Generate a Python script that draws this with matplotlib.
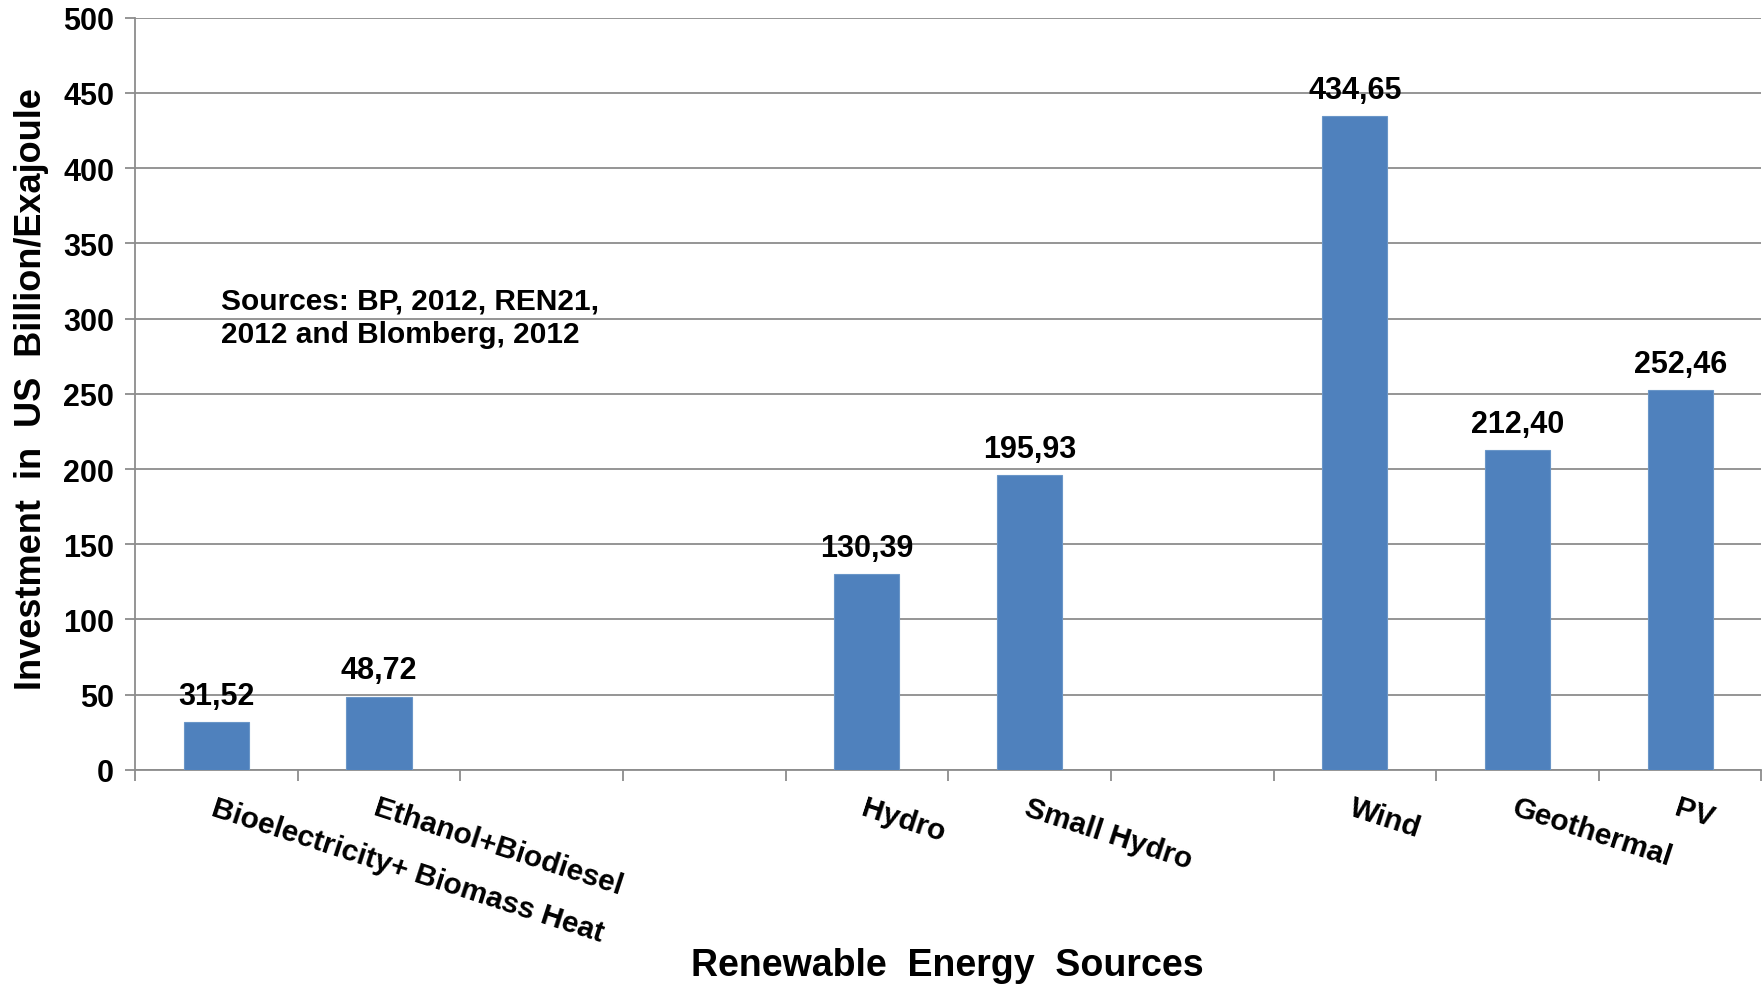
import numpy as np
import matplotlib.pyplot as plt

plt.rcParams['font.family'] = ['Liberation Sans', 'DejaVu Sans']
plt.rcParams['font.weight'] = 'bold'

# categories (empty slots keep the spacing between the groups)
categories = ['Bioelectricity+ Biomass Heat', 'Ethanol+Biodiesel', '', '',
              'Hydro', 'Small Hydro', '', 'Wind', 'Geothermal', 'PV']
investment = [31.52, 48.72, None, None, 130.39, 195.93, None, 434.65, 212.40, 252.46]
value_labels = ['31,52', '48,72', '', '', '130,39', '195,93', '', '434,65', '212,40', '252,46']

fig = plt.figure(figsize=(17.65, 9.87), dpi=100)
ax = fig.add_axes([0.0765, 0.219, 0.9215, 0.762])

pos = np.arange(len(categories))
have = [i for i, v in enumerate(investment) if v is not None]
vals = [investment[i] for i in have]
bars = ax.bar(pos[have], vals, width=0.4, color='#4F81BD', edgecolor='#6A96C8',
              linewidth=0.8, zorder=3)

for i, b in zip(have, bars):
    ax.annotate(value_labels[i], (b.get_x() + b.get_width() / 2, b.get_height()),
                xytext=(0, 8), textcoords='offset points', ha='center', va='bottom',
                fontsize=22, fontweight='bold')

ax.set_xlim(-0.5, len(categories) - 0.5)
ax.set_ylim(0, 500)
ax.set_yticks(np.arange(0, 501, 50))
ax.yaxis.grid(True, color='#8C8C8C', linewidth=1.3, zorder=0)
ax.set_axisbelow(True)

# tick marks between categories, labels at the centres
ax.set_xticks(np.arange(-0.5, len(categories), 1.0))
ax.set_xticklabels([])
ax.set_xticks(pos, categories, minor=True)
ax.tick_params(axis='x', which='major', length=8, width=1.3, color='#8C8C8C')
ax.tick_params(axis='x', which='minor', length=0, pad=17, labelsize=21.5)
for lab in ax.get_xticklabels(minor=True):
    lab.set_rotation(-18)
    lab.set_ha('left')
    lab.set_va('top')
    lab.set_rotation_mode('anchor')
    lab.set_fontweight('bold')

ax.tick_params(axis='y', length=7, width=1.3, color='#8C8C8C', labelsize=22, pad=8)
for lab in ax.get_yticklabels():
    lab.set_fontweight('bold')

for s in ['top', 'right']:
    ax.spines[s].set_visible(False)
for s in ['left', 'bottom']:
    ax.spines[s].set_color('#8C8C8C')
    ax.spines[s].set_linewidth(1.3)

ax.set_ylabel('Investment  in  US  Billion/Exajoule', fontsize=26, fontweight='bold')
ax.yaxis.set_label_coords(-0.053, 0.507)
fig.text(0.537, 0.021, 'Renewable  Energy  Sources', fontsize=27, fontweight='bold',
         ha='center', va='center')

ax.text(0.053, 0.602, 'Sources: BP, 2012, REN21,\n2012 and Blomberg, 2012',
        transform=ax.transAxes, fontsize=21.5, fontweight='bold', ha='left', va='center',
        linespacing=1.25)

fig.savefig('out.png', dpi=100)
